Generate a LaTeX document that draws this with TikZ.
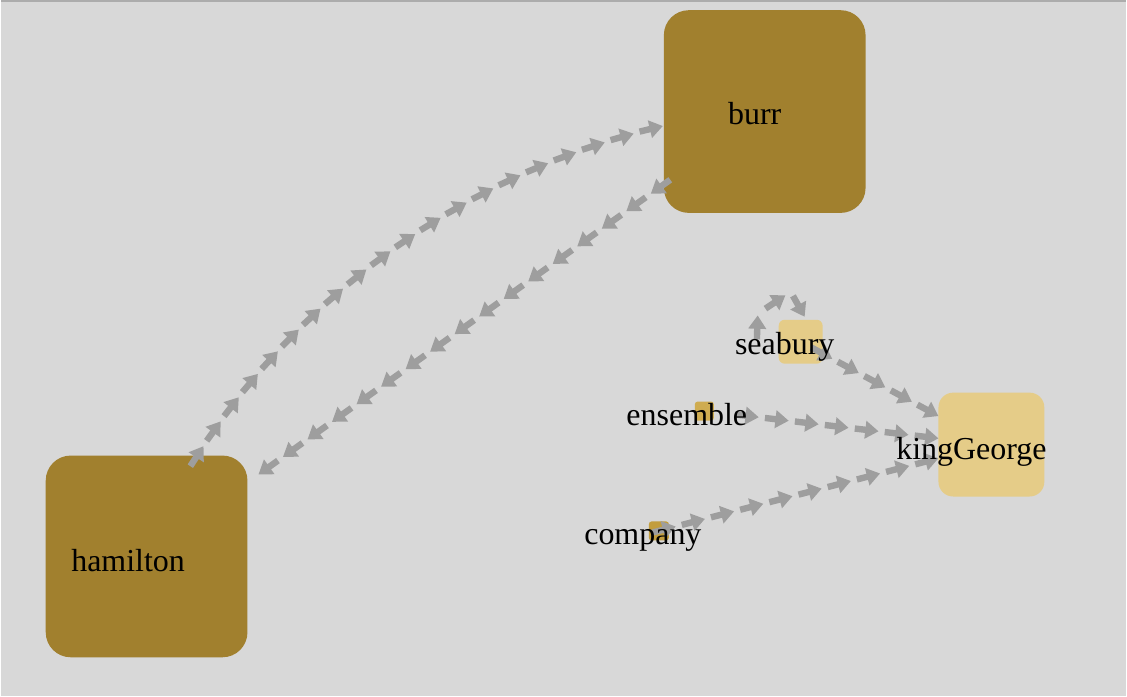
\documentclass[tikz,border=0pt]{standalone}
\usepackage{fontspec}
\setmainfont{Liberation Serif}
\usetikzlibrary{arrows.meta,calc,decorations.markings}
\definecolor{bg}{RGB}{216,216,216}
\definecolor{topline}{RGB}{172,172,172}
\definecolor{darkgold}{RGB}{161,128,46}
\definecolor{lightgold}{RGB}{229,204,136}
\definecolor{midgold}{RGB}{207,172,80}
\definecolor{deepgold}{RGB}{194,157,62}
\definecolor{linkgray}{RGB}{158,158,158}
\begin{document}
\begin{tikzpicture}[x=0.75pt,y=-0.75pt,
  box/.style={rectangle, inner sep=0pt, outer sep=0pt, draw=none},
  lbl/.style={inner sep=0pt, font=\fontsize{24}{28}\selectfont, text=black},
  dashtip/.style={draw=linkgray, line width=4.8pt, -{Triangle[length=10pt,width=13pt]}},
  dashlink/.style={postaction={decorate}, decoration={markings, mark=between positions 0 and -16pt step #1 with {\draw[dashtip] (24,0) -- (0,0);}}},
  dashlink/.default=22.65pt
]
\fill[bg] (0,0) rectangle (1127,697);
\draw[topline, line width=1.2pt] (0,0.6) -- (1127,0.6);

% nodes
\node[box, fill=darkgold, minimum width=151.5pt, minimum height=152.25pt, rounded corners=18.75pt] (burr) at (765,111.5) {};
\node[box, fill=darkgold, minimum width=151.5pt, minimum height=151.5pt, rounded corners=18.75pt] (hamilton) at (146,557) {};
\node[box, fill=lightgold, minimum width=79.5pt, minimum height=78pt, rounded corners=11pt] (kingGeorge) at (992,445) {};
\node[box, fill=lightgold, minimum width=33pt, minimum height=33pt, rounded corners=4.5pt] (seabury) at (801,342) {};
\node[box, fill=midgold, minimum width=14.25pt, minimum height=14.25pt, rounded corners=2pt] (ensemble) at (704.5,411.5) {};
\node[box, fill=deepgold, minimum width=15pt, minimum height=14.25pt, rounded corners=2pt] (company) at (659,531.5) {};

% links (drawn from target back to source, arrows point to target)
% hamilton -> burr (curved)
\path[dashlink] ($(burr.center)+(-102,14.5)$) .. controls (467,173) and (296,295) .. ($(hamilton.center)+(44,-90)$);
% burr -> hamilton
\path[dashlink] ($(hamilton.center)+(112,-82)$) -- ($(burr.center)+(-92,66.5)$);
% seabury -> seabury (self loop)
\path[dashlink=26.25pt] ($(seabury.center)+(4,-25)$) -- ($(seabury.center)+(-10,-50)$) -- ($(seabury.center)+(-43,-28)$) -- ($(seabury.center)+(-44,3)$);
% seabury -> kingGeorge
\path[dashlink] (kingGeorge) -- (seabury.center);
% ensemble -> kingGeorge
\path[dashlink] (kingGeorge) -- ($(ensemble.center)+(28,3)$);
% company -> kingGeorge
\path[dashlink] (kingGeorge) -- ($(company.center)+(-8,2)$);

% labels
\node[lbl] (burrlabel) at (755,114) {burr};
\node[lbl] (hamiltonlabel) at (127.5,561) {hamilton};
\node[lbl] (kinglabel) at (972,452) {kingGeorge};
\node[lbl] (seaburylabel) at (785,347) {seabury};
\node[lbl] (ensemblelabel) at (687,415) {ensemble};
\node[lbl] (companylabel) at (643,541) {company};
\end{tikzpicture}
\end{document}
